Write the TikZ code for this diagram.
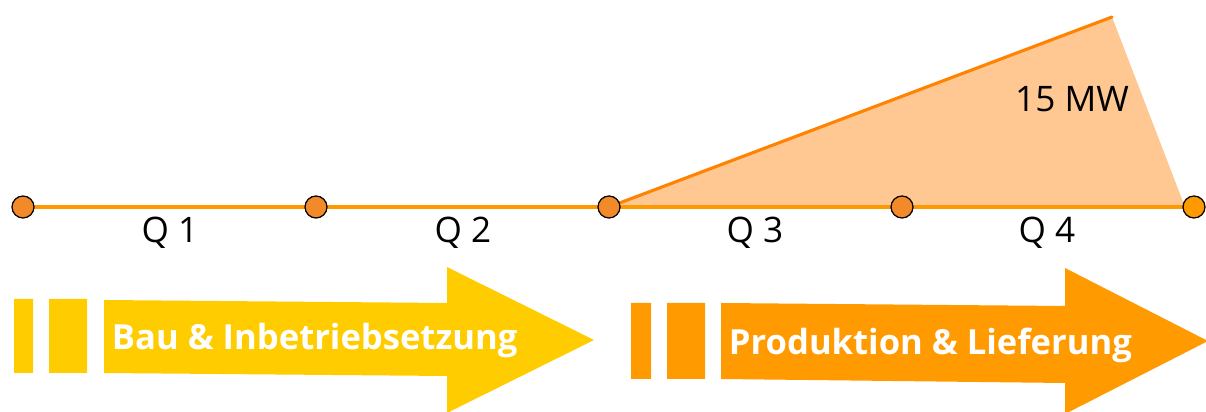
\documentclass[tikz,border=0pt]{standalone}
\usepackage{fontspec}
\setmainfont{Open Sans}
\definecolor{lineorange}{HTML}{FF9900}
\definecolor{dotorange}{HTML}{F28A2A}
\definecolor{peach}{HTML}{FFC893}
\definecolor{bauyellow}{HTML}{FFCC00}
\definecolor{prodorange}{HTML}{FF9A00}
\begin{document}
\begin{tikzpicture}[x=0.025cm, y=-0.025cm, line join=round, line cap=round,
	qdot/.style={circle, draw=black, line width=0.9pt, fill=dotorange, inner sep=0pt, minimum size=0.55cm},
	qlabel/.style={font=\fontsize{25}{30}\selectfont, anchor=base},
	phase/.style={font=\fontsize{24.6}{30}\selectfont\bfseries, text=white, anchor=base west}]
	\useasboundingbox (0,0) rectangle (1206,412);
	% Zeitachse
	\foreach \x [count=\i from 0] in {23,316,609,902,1194}
		\coordinate (c\i) at (\x,207);
	\coordinate (peak) at (1112,17);
	\coordinate (tend) at (1185,207);
	\fill[peach] (c2)--(peak)--(tend)--cycle;
	\draw[lineorange, line width=2.6pt] (c0)--(c4);
	\draw[lineorange!85!red, line width=2.2pt] (c2)--(peak);
	\foreach \i in {0,...,3}
		\node[qdot] (d\i) at (c\i) {};
	\node[qdot, fill=lineorange] (d4) at (c4) {};
	\node[anchor=base] (mw) at (1072,112) {\fontsize{25}{30}\selectfont 15 MW};
	\node[qlabel] (q1) at (170,243) {Q 1};
	\node[qlabel] (q2) at (463,243) {Q 2};
	\node[qlabel] (q3) at (755,243) {Q 3};
	\node[qlabel] (q4) at (1047,243) {Q 4};
	% Phasen
	\fill[bauyellow] (14,299) rectangle (33,373) (49,299) rectangle (87,373);
	\fill[bauyellow] (104,300)--(447,303)--(447,267)--(594,340)--(447,413)--(447,376)--(104,373)--cycle;
	\node[phase] (bau) at (107,350) {Bau \& Inbetriebsetzung};
	\fill[prodorange] (631,303) rectangle (651,379) (667,303) rectangle (705,379);
	\fill[prodorange] (721,303)--(1065,306)--(1065,268)--(1208,341)--(1065,414)--(1065,383)--(721,379)--cycle;
	\node[phase] (prod) at (724,355) {Produktion \& Lieferung};
\end{tikzpicture}
\end{document}
